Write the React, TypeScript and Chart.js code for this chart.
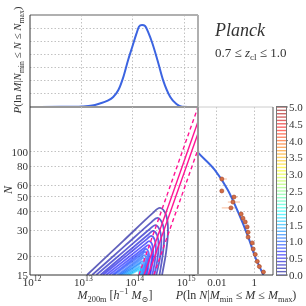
import React, { useEffect, useRef } from 'react';
import { Chart, registerables } from 'chart.js';
Chart.register(...registerables);

const FONT = '"Liberation Serif", "DejaVu Serif", serif';
const TEXT = '#333';
const BLUE = 'rgb(60,100,225)';
const PINK = 'rgb(255,20,147)';

// ---------- top marginal: P(ln M | N range) ----------
const topLogM = [12.0, 12.6, 13.01, 13.21, 13.36, 13.5, 13.62, 13.72, 13.81, 13.91, 13.99, 14.07, 14.12, 14.18, 14.24, 14.3, 14.38, 14.48, 14.59, 14.73, 14.85, 14.96, 15.27];
const topP = [0, 0.01, 0.04, 0.11, 0.27, 0.46, 0.76, 1.29, 2.2, 3.58, 4.56, 5.56, 6.1, 6.24, 6.16, 5.7, 4.87, 3.58, 2.05, 0.76, 0.23, 0.02, 0];

// ---------- main panel: contours of P(M, N) ----------
const contourLevels = [0.1, 0.2, 0.3, 0.4, 0.5, 0.6, 0.7, 0.8, 0.9, 1.0, 1.1, 1.2, 1.3, 1.4, 1.5, 1.6];
const contourLeftLogM = [13.11, 13.21, 13.29, 13.37, 13.42, 13.48, 13.54, 13.6, 13.64, 13.7, 13.74, 13.77, 13.81, 13.85, 13.89, 13.93];
const contourApexLogM = [14.53, 14.48, 14.44, 14.4, 14.36, 14.32, 14.3, 14.26, 14.24, 14.22, 14.2, 14.18, 14.16, 14.14, 14.13, 14.11];
const contourApexN = [42.2, 36.2, 32.4, 29.6, 27.4, 25.3, 23.8, 22.4, 21.4, 20.4, 19.5, 18.6, 18.0, 17.2, 16.7, 16.2];
const contourRightLogM = [14.57, 14.52, 14.46, 14.42, 14.38, 14.34, 14.32, 14.28, 14.26, 14.24, 14.22, 14.2, 14.18, 14.16, 14.14, 14.13];

// mass–richness relation lines (log10 M at N = relationN)
const relationN = [10, 300];
const relDashLo = [13.94, 15.45];
const relSolidA = [14.04, 15.55];
const relSolidB = [14.12, 15.63];
const relDashHi = [14.23, 15.74];

// ---------- right marginal: P(ln N | M range) ----------
const rightCurveN = [112, 100, 75.8, 55.7, 39.6, 26.9, 19.8, 15.5, 14.5];
const rightCurveP = [0.00045, 0.00093, 0.0078, 0.039, 0.138, 0.48, 1.12, 2.7, 3.3];
const obsN = [65.9, 54.8, 49.9, 46.2, 42.2, 38.4, 36.0, 34.0, 31.5, 29.0, 26.9, 24.6, 22.4, 20.6, 18.5, 17.1, 15.7];
const obsP = [0.0186, 0.0186, 0.083, 0.073, 0.057, 0.2, 0.25, 0.33, 0.42, 0.47, 0.47, 0.78, 0.88, 1.13, 1.45, 1.87, 3.1];
const obsPLo = [0.0186, 0.0186, 0.057, 0.039, 0.0186, 0.18, 0.23, 0.3, 0.38, 0.43, 0.43, 0.72, 0.82, 1.05, 1.35, 1.75, 2.9];
const obsPHi = [0.035, 0.0186, 0.13, 0.175, 0.12, 0.22, 0.27, 0.36, 0.46, 0.52, 0.51, 0.85, 0.95, 1.22, 1.56, 2.0, 3.3];

// ---------- ticks ----------
const mainYTicks = [15, 20, 30, 40, 50, 60, 80, 100];
const mainYGrid = [20, 30, 40, 50, 60, 80, 100];
const mainXExp = [12, 13, 14, 15];
const mainXGrid = [1e13, 1e14, 1e15];
const rightXTicks = [0.01, 1];
const rightXLabels = ['0.01', '1'];
const topYGrid = [1, 2, 3, 4, 5, 6];
const cbarTicks = [0.0, 0.5, 1.0, 1.5, 2.0, 2.5, 3.0, 3.5, 4.0, 4.5, 5.0];
const cbarLevels = [0.0, 0.1, 0.2, 0.3, 0.4, 0.5, 0.6, 0.7, 0.8, 0.9, 1.0, 1.1, 1.2, 1.3, 1.4, 1.5, 1.6, 1.7, 1.8, 1.9, 2.0, 2.1, 2.2, 2.3, 2.4, 2.5, 2.6, 2.7, 2.8, 2.9, 3.0, 3.1, 3.2, 3.3, 3.4, 3.5, 3.6, 3.7, 3.8, 3.9, 4.0, 4.1, 4.2, 4.3, 4.4, 4.5, 4.6, 4.7, 4.8, 4.9, 5.0];

const X_MIN = 1e12;
const X_MAX = Math.pow(10, 15.27);
const N_MIN = 15;
const N_MAX = 200;

function jetColor(v: number, a: number) {
  const t = v / 5;
  const c = (q: number) => Math.max(0, Math.min(1, q));
  const r = c(1.5 - Math.abs(4 * t - 3));
  const g = c(1.5 - Math.abs(4 * t - 2));
  const b = c(1.5 - Math.abs(4 * t - 1));
  return `rgba(${Math.round(r * 255)},${Math.round(g * 255)},${Math.round(b * 255)},${a})`;
}

// contour outline through read key values (shape offsets scale with contour size)
function contourPoints(k: number) {
  const L = contourLeftLogM[k];
  const A = contourApexLogM[k];
  const An = contourApexN[k];
  const R = contourRightLogM[k];
  const s = Math.log(An / N_MIN) / Math.log(contourApexN[0] / N_MIN);
  const off = (dx: number, dy: number) => ({ x: Math.pow(10, A + (dx * s) / 51.3), y: An * Math.exp((-dy * s) / 64.8) });
  const sh = off(-7, 5);
  const mid = {
    x: Math.pow(10, L + 0.55 * (Math.log10(sh.x) - L)),
    y: Math.exp(Math.log(N_MIN) + 0.55 * (Math.log(sh.y) - Math.log(N_MIN))),
  };
  return [{ x: Math.pow(10, L), y: N_MIN }, mid, sh, off(0, 0), off(6, 7), off(8, 22), off(6, 45), { x: Math.pow(10, R), y: N_MIN }];
}

type Seg = { t: string; it?: boolean; sub?: boolean; sup?: boolean };
function drawRich(ctx: CanvasRenderingContext2D, segs: Seg[], x: number, y: number, size: number, align: 'left' | 'center' | 'right', rot = 0, color = TEXT) {
  ctx.save();
  ctx.translate(x, y);
  ctx.rotate(rot);
  const fontFor = (s: Seg) => `${s.it ? 'italic ' : ''}${s.sub || s.sup ? size * 0.7 : size}px ${FONT}`;
  let total = 0;
  const widths = segs.map((s) => {
    ctx.font = fontFor(s);
    const w = ctx.measureText(s.t).width;
    total += w;
    return w;
  });
  let cx = align === 'left' ? 0 : align === 'center' ? -total / 2 : -total;
  ctx.fillStyle = color;
  ctx.textBaseline = 'alphabetic';
  ctx.textAlign = 'left';
  segs.forEach((s, i) => {
    ctx.font = fontFor(s);
    const dy = s.sub ? size * 0.25 : s.sup ? -size * 0.42 : 0;
    ctx.fillText(s.t, cx, dy);
    cx += widths[i];
  });
  ctx.restore();
}

function seg(ctx: CanvasRenderingContext2D, x1: number, y1: number, x2: number, y2: number, color: string, w: number) {
  ctx.save();
  ctx.strokeStyle = color;
  ctx.lineWidth = w;
  ctx.setLineDash([]);
  ctx.beginPath();
  ctx.moveTo(x1, y1);
  ctx.lineTo(x2, y2);
  ctx.stroke();
  ctx.restore();
}

function axis(type: string, min: number, max: number, gridVals: number[], position: string) {
  return {
    type,
    min,
    max,
    position,
    ticks: { display: false },
    grid: { display: gridVals.length > 0, color: '#c2c2c2', lineWidth: 1, drawTicks: false },
    border: { display: false, dash: [1.5, 2] },
    afterBuildTicks: (s: any) => {
      s.ticks = (gridVals.length ? gridVals : [min]).map((v) => ({ value: v }));
    },
    afterFit: (s: any) => {
      if (s.isHorizontal()) s.height = 0;
      else s.width = 0;
    },
  };
}

function baseOptions(l: number, t: number, r: number, b: number, scales: any) {
  return {
    responsive: false,
    maintainAspectRatio: false,
    animation: false,
    devicePixelRatio: 1,
    events: [],
    layout: { padding: { left: l, top: t, right: 306 - r, bottom: 306 - b } },
    plugins: { legend: { display: false }, tooltip: { enabled: false } },
    scales,
  };
}

const deco = (id: string, fn: (chart: any, ctx: CanvasRenderingContext2D) => void, hook = 'afterDraw') => ({
  id,
  [hook](chart: any) {
    const ctx = chart.ctx as CanvasRenderingContext2D;
    ctx.save();
    fn(chart, ctx);
    ctx.restore();
  },
});

export default function App() {
  const topRef = useRef<HTMLCanvasElement>(null);
  const mainRef = useRef<HTMLCanvasElement>(null);
  const rightRef = useRef<HTMLCanvasElement>(null);
  const cbarRef = useRef<HTMLCanvasElement>(null);

  useEffect(() => {
    const charts: Chart[] = [];

    // ----- top panel -----
    charts.push(
      new Chart(topRef.current!, {
        type: 'line',
        data: {
          datasets: [
            {
              data: topLogM.map((v, i) => ({ x: Math.pow(10, v), y: topP[i] })),
              borderColor: BLUE,
              borderWidth: 2,
              pointRadius: 0,
              cubicInterpolationMode: 'monotone',
            },
          ],
        },
        options: baseOptions(30, 15, 198, 107, {
          x: axis('logarithmic', X_MIN, X_MAX, mainXGrid, 'bottom'),
          y: axis('linear', 0, 7, topYGrid, 'left'),
        }) as any,
        plugins: [
          deco('topDeco', (chart, ctx) => {
            const a = chart.chartArea;
            seg(ctx, a.left, a.top, a.right, a.top, '#b0b0b0', 2);
            seg(ctx, a.right, a.top, a.right, a.bottom, '#b0b0b0', 2);
            seg(ctx, a.left, a.bottom, a.right, a.bottom, '#999', 2);
            seg(ctx, a.left, a.top, a.left, a.bottom, '#333', 1);
            drawRich(
              ctx,
              [
                { t: 'P', it: true },
                { t: '(ln ' },
                { t: 'M', it: true },
                { t: '|' },
                { t: 'N', it: true },
                { t: 'min', sub: true },
                { t: ' ≤ ' },
                { t: 'N', it: true },
                { t: ' ≤ ' },
                { t: 'N', it: true },
                { t: 'max', sub: true },
                { t: ')' },
              ],
              21,
              60,
              11,
              'center',
              -Math.PI / 2
            );
            drawRich(ctx, [{ t: 'Planck', it: true }], 215, 36, 18, 'left');
            drawRich(ctx, [{ t: '0.7 ≤ ' }, { t: 'z', it: true }, { t: 'cl', sub: true }, { t: ' ≤ 1.0' }], 215, 57, 13, 'left');
          }),
        ],
      })
    );

    // ----- main panel -----
    const relLine = (arr: number[], dash: number[] | undefined) => ({
      data: relationN.map((n, i) => ({ x: Math.pow(10, arr[i]), y: n })),
      borderColor: PINK,
      borderWidth: 1.4,
      borderDash: dash,
      pointRadius: 0,
      tension: 0,
    });
    const contourSets = contourLevels.map((lv, k) => ({
      data: contourPoints(k),
      borderColor: jetColor(lv, 0.62),
      borderWidth: 1.8,
      pointRadius: 0,
      tension: 0.35,
    }));
    charts.push(
      new Chart(mainRef.current!, {
        type: 'line',
        data: {
          datasets: [relLine(relDashLo, [4, 3]), relLine(relSolidA, undefined), relLine(relSolidB, undefined), relLine(relDashHi, [4, 3]), ...contourSets] as any,
        },
        options: baseOptions(30, 107, 198, 275, {
          x: axis('logarithmic', X_MIN, X_MAX, mainXGrid, 'bottom'),
          y: axis('logarithmic', N_MIN, N_MAX, mainYGrid, 'left'),
        }) as any,
        plugins: [
          deco('mainDeco', (chart, ctx) => {
            const a = chart.chartArea;
            const xs = chart.scales.x;
            const ys = chart.scales.y;
            seg(ctx, a.left, a.bottom, a.right, a.bottom, '#333', 1);
            seg(ctx, a.left, a.top, a.left, a.bottom, '#333', 1);
            seg(ctx, a.right, a.top, a.right, a.bottom, '#999', 2);
            mainYTicks.forEach((v) => {
              drawRich(ctx, [{ t: String(v) }], 28, ys.getPixelForValue(v) + 4, 11, 'right');
            });
            mainXExp.forEach((e) => {
              drawRich(ctx, [{ t: '10' }, { t: String(e), sup: true }], xs.getPixelForValue(Math.pow(10, e)) + 2, 286, 11, 'center');
            });
            drawRich(
              ctx,
              [
                { t: 'M', it: true },
                { t: '200m', sub: true },
                { t: ' [' },
                { t: 'h', it: true },
                { t: '−1', sup: true },
                { t: ' ' },
                { t: 'M', it: true },
                { t: '⊙', sub: true },
                { t: ']' },
              ],
              115,
              299,
              12,
              'center'
            );
            drawRich(ctx, [{ t: 'N', it: true }], 12, 190, 12, 'center', -Math.PI / 2);
          }),
        ],
      })
    );

    // ----- right panel -----
    charts.push(
      new Chart(rightRef.current!, {
        type: 'line',
        data: {
          datasets: [
            {
              data: obsN.map((n, i) => ({ x: obsP[i], y: n })),
              showLine: false,
              pointRadius: 2,
              pointBackgroundColor: 'rgb(210,110,70)',
              pointBorderColor: 'rgb(170,75,45)',
              pointBorderWidth: 0.7,
            },
            {
              data: rightCurveN.map((n, i) => ({ x: rightCurveP[i], y: n })),
              borderColor: BLUE,
              borderWidth: 2,
              pointRadius: 0,
              cubicInterpolationMode: 'monotone',
              tension: 0.4,
            },
          ] as any,
        },
        options: baseOptions(198, 107, 273, 275, {
          x: axis('logarithmic', 0.001, 10, rightXTicks, 'bottom'),
          y: axis('logarithmic', N_MIN, N_MAX, mainYGrid, 'left'),
        }) as any,
        plugins: [
          deco(
            'errbars',
            (chart, ctx) => {
              const xs = chart.scales.x;
              const ys = chart.scales.y;
              ctx.strokeStyle = 'rgba(245,150,100,0.65)';
              ctx.lineWidth = 1;
              obsN.forEach((n, i) => {
                const y = ys.getPixelForValue(n);
                const x1 = xs.getPixelForValue(obsPLo[i]);
                const x2 = xs.getPixelForValue(obsPHi[i]);
                ctx.beginPath();
                ctx.moveTo(x1, y);
                ctx.lineTo(x2, y);
                ctx.stroke();
              });
            },
            'beforeDatasetsDraw'
          ),
          deco('rightDeco', (chart, ctx) => {
            const a = chart.chartArea;
            const xs = chart.scales.x;
            seg(ctx, a.left, a.top, a.right, a.top, '#ccc', 1);
            seg(ctx, a.right, a.top, a.right, a.bottom, '#555', 1);
            seg(ctx, a.left, a.bottom, a.right, a.bottom, '#333', 1);
            seg(ctx, a.left, a.top, a.left, a.bottom, '#999', 2);
            rightXTicks.forEach((v, i) => {
              drawRich(ctx, [{ t: rightXLabels[i] }], xs.getPixelForValue(v), 286, 11, 'center');
            });
            drawRich(
              ctx,
              [
                { t: 'P', it: true },
                { t: '(ln ' },
                { t: 'N', it: true },
                { t: '|' },
                { t: 'M', it: true },
                { t: 'min', sub: true },
                { t: ' ≤ ' },
                { t: 'M', it: true },
                { t: ' ≤ ' },
                { t: 'M', it: true },
                { t: 'max', sub: true },
                { t: ')' },
              ],
              236,
              299,
              12,
              'center'
            );
          }),
        ],
      })
    );

    // ----- colour bar -----
    charts.push(
      new Chart(cbarRef.current!, {
        type: 'line',
        data: {
          datasets: [
            {
              data: cbarLevels.map((v) => ({ x: 0.5, y: v })),
              showLine: false,
              pointStyle: 'line',
              pointRadius: 4.5,
              pointBorderWidth: 1.4,
              pointBorderColor: cbarLevels.map((v) => jetColor(v, 0.6)),
              pointBackgroundColor: cbarLevels.map((v) => jetColor(v, 0.6)),
            },
          ] as any,
        },
        options: baseOptions(277, 107, 286, 275, {
          x: { ...axis('linear', 0, 1, [], 'bottom'), grid: { display: false } },
          y: { ...axis('linear', 0, 5, [], 'left'), grid: { display: false } },
        }) as any,
        plugins: [
          deco('cbarDeco', (chart, ctx) => {
            const a = chart.chartArea;
            const ys = chart.scales.y;
            ctx.strokeStyle = '#777';
            ctx.lineWidth = 1;
            ctx.strokeRect(a.left - 0.5, a.top - 0.5, a.right - a.left + 1, a.bottom - a.top + 1);
            cbarTicks.forEach((v) => {
              const y = ys.getPixelForValue(v);
              seg(ctx, a.right, y, a.right + 2, y, '#777', 1);
              drawRich(ctx, [{ t: v.toFixed(1) }], a.right + 3, y + 4, 11, 'left');
            });
          }),
        ],
      })
    );

    return () => charts.forEach((c) => c.destroy());
  }, []);

  const cs: React.CSSProperties = { position: 'absolute', left: 0, top: 0, width: 306, height: 306 };
  return (
    <div style={{ position: 'fixed', left: 0, top: 0, width: 306, height: 306, background: '#fff', overflow: 'hidden' }}>
      <canvas ref={topRef} width={306} height={306} style={cs} />
      <canvas ref={mainRef} width={306} height={306} style={cs} />
      <canvas ref={rightRef} width={306} height={306} style={cs} />
      <canvas ref={cbarRef} width={306} height={306} style={cs} />
    </div>
  );
}
